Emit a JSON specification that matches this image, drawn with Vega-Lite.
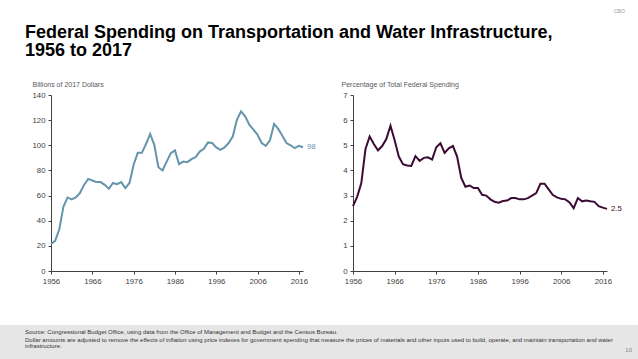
{
  "$schema": "https://vega.github.io/schema/vega-lite/v6.json",
  "background": "white",
  "padding": {"top": 8, "left": 0, "right": 0, "bottom": 0},
  "autosize": {"type": "pad"},
  "config": {
    "view": {"stroke": null},
    "font": "Liberation Sans",
    "axis": {
      "domainColor": "#404040",
      "tickColor": "#404040",
      "labelColor": "#404040",
      "labelFontSize": 7.8,
      "labelFont": "Liberation Sans",
      "labelOverlap": false,
      "labelFlush": false,
      "grid": false,
      "tickSize": 3,
      "domainWidth": 1,
      "titleFont": "Liberation Sans",
      "titleFontWeight": "normal",
      "titleFontSize": 7,
      "titleColor": "#595959"
    }
  },
  "datasets": {
    "dollars": [
      {"year": 1956, "value": 21.5}, {"year": 1957, "value": 24}, {"year": 1958, "value": 33}, {"year": 1959, "value": 51},
      {"year": 1960, "value": 58.5}, {"year": 1961, "value": 57}, {"year": 1962, "value": 58.5}, {"year": 1963, "value": 62},
      {"year": 1964, "value": 68.5}, {"year": 1965, "value": 73.3}, {"year": 1966, "value": 72}, {"year": 1967, "value": 70.7},
      {"year": 1968, "value": 70.7}, {"year": 1969, "value": 68.5}, {"year": 1970, "value": 65.4}, {"year": 1971, "value": 70},
      {"year": 1972, "value": 69}, {"year": 1973, "value": 70.7}, {"year": 1974, "value": 66}, {"year": 1975, "value": 70},
      {"year": 1976, "value": 84.5}, {"year": 1977, "value": 94}, {"year": 1978, "value": 94}, {"year": 1979, "value": 101},
      {"year": 1980, "value": 109}, {"year": 1981, "value": 100.4}, {"year": 1982, "value": 82.6}, {"year": 1983, "value": 80},
      {"year": 1984, "value": 87}, {"year": 1985, "value": 93.8}, {"year": 1986, "value": 96}, {"year": 1987, "value": 85},
      {"year": 1988, "value": 87}, {"year": 1989, "value": 86.6}, {"year": 1990, "value": 89}, {"year": 1991, "value": 90.6},
      {"year": 1992, "value": 95}, {"year": 1993, "value": 97.2}, {"year": 1994, "value": 102.3}, {"year": 1995, "value": 101.8},
      {"year": 1996, "value": 98.3}, {"year": 1997, "value": 96.4}, {"year": 1998, "value": 98.3}, {"year": 1999, "value": 101.8},
      {"year": 2000, "value": 107}, {"year": 2001, "value": 120.3}, {"year": 2002, "value": 127}, {"year": 2003, "value": 123},
      {"year": 2004, "value": 116.4}, {"year": 2005, "value": 112.4}, {"year": 2006, "value": 108.4}, {"year": 2007, "value": 101.8},
      {"year": 2008, "value": 99.6}, {"year": 2009, "value": 104}, {"year": 2010, "value": 117}, {"year": 2011, "value": 113},
      {"year": 2012, "value": 107.6}, {"year": 2013, "value": 101.8}, {"year": 2014, "value": 100}, {"year": 2015, "value": 97.8},
      {"year": 2016, "value": 99.6}, {"year": 2017, "value": 98.4}
    ],
    "share": [
      {"year": 1956, "value": 2.58}, {"year": 1957, "value": 2.95}, {"year": 1958, "value": 3.5}, {"year": 1959, "value": 4.85},
      {"year": 1960, "value": 5.35}, {"year": 1961, "value": 5.05}, {"year": 1962, "value": 4.8}, {"year": 1963, "value": 4.97},
      {"year": 1964, "value": 5.25}, {"year": 1965, "value": 5.78}, {"year": 1966, "value": 5.2}, {"year": 1967, "value": 4.55},
      {"year": 1968, "value": 4.25}, {"year": 1969, "value": 4.2}, {"year": 1970, "value": 4.18}, {"year": 1971, "value": 4.57},
      {"year": 1972, "value": 4.38}, {"year": 1973, "value": 4.5}, {"year": 1974, "value": 4.52}, {"year": 1975, "value": 4.43},
      {"year": 1976, "value": 4.92}, {"year": 1977, "value": 5.08}, {"year": 1978, "value": 4.7}, {"year": 1979, "value": 4.88},
      {"year": 1980, "value": 4.97}, {"year": 1981, "value": 4.55}, {"year": 1982, "value": 3.7}, {"year": 1983, "value": 3.35},
      {"year": 1984, "value": 3.4}, {"year": 1985, "value": 3.3}, {"year": 1986, "value": 3.3}, {"year": 1987, "value": 3.03},
      {"year": 1988, "value": 3.0}, {"year": 1989, "value": 2.85}, {"year": 1990, "value": 2.75}, {"year": 1991, "value": 2.72},
      {"year": 1992, "value": 2.78}, {"year": 1993, "value": 2.8}, {"year": 1994, "value": 2.9}, {"year": 1995, "value": 2.9},
      {"year": 1996, "value": 2.85}, {"year": 1997, "value": 2.85}, {"year": 1998, "value": 2.9}, {"year": 1999, "value": 3.0},
      {"year": 2000, "value": 3.1}, {"year": 2001, "value": 3.47}, {"year": 2002, "value": 3.47}, {"year": 2003, "value": 3.25},
      {"year": 2004, "value": 3.02}, {"year": 2005, "value": 2.93}, {"year": 2006, "value": 2.87}, {"year": 2007, "value": 2.85},
      {"year": 2008, "value": 2.73}, {"year": 2009, "value": 2.5}, {"year": 2010, "value": 2.9}, {"year": 2011, "value": 2.77},
      {"year": 2012, "value": 2.8}, {"year": 2013, "value": 2.77}, {"year": 2014, "value": 2.75}, {"year": 2015, "value": 2.58},
      {"year": 2016, "value": 2.52}, {"year": 2017, "value": 2.47}
    ]
  },
  "title": {
    "text": "10",
    "orient": "bottom",
    "anchor": "end",
    "offset": -12,
    "dx": -6,
    "fontSize": 6,
    "fontWeight": "normal",
    "color": "#7f7f7f"
  },
  "spacing": 40,
  "vconcat": [
    {
      "title": {
        "text": "CBO",
        "anchor": "end",
        "offset": 10,
        "dx": 3,
        "fontSize": 5,
        "fontWeight": "normal",
        "color": "#999999"
      },
      "spacing": 50,
      "bounds": "flush",
      "hconcat": [
        {
          "width": 1,
          "height": 176,
          "data": {"values": []},
          "mark": "point",
          "title": {
            "text": ["Federal Spending on Transportation and Water Infrastructure,", "1956 to 2017"],
            "anchor": "start",
            "frame": "group",
            "dx": 25,
            "offset": 35,
            "fontSize": 18,
            "lineHeight": 18.5,
            "fontWeight": "bold",
            "color": "#000000"
          }
        },
        {
          "width": 252,
          "height": 176,
          "data": {"name": "dollars"},
          "encoding": {
            "x": {"field": "year", "type": "quantitative",
              "scale": {"domain": [1956, 2017], "nice": false, "zero": false},
              "axis": {"values": [1956, 1966, 1976, 1986, 1996, 2006, 2016], "format": "d", "title": null, "labelPadding": 3}},
            "y": {"field": "value", "type": "quantitative",
              "scale": {"domain": [0, 140], "nice": false},
              "axis": {"values": [0, 20, 40, 60, 80, 100, 120, 140], "title": "Billions of 2017 Dollars",
                "titleAngle": 0, "titleAlign": "left", "titleBaseline": "alphabetic", "titleX": -19, "titleY": -9, "labelPadding": 3}}
          },
          "layer": [
            {
              "mark": {"type": "line", "color": "#6595ab", "strokeWidth": 2}
            },
            {
              "transform": [{"filter": "datum.year == 2017"}],
              "mark": {"type": "text", "align": "left", "baseline": "middle", "dx": 4, "fontSize": 7.8, "color": "#6595ab"},
              "encoding": {
                "text": {"field": "value", "type": "quantitative", "format": ".0f"}
              }
            }
          ]
        },
        {
          "width": 254,
          "height": 176,
          "data": {"name": "share"},
          "encoding": {
            "x": {"field": "year", "type": "quantitative",
              "scale": {"domain": [1956, 2017], "nice": false, "zero": false},
              "axis": {"values": [1956, 1966, 1976, 1986, 1996, 2006, 2016], "format": "d", "title": null, "labelPadding": 3}},
            "y": {"field": "value", "type": "quantitative",
              "scale": {"domain": [0, 7], "nice": false},
              "axis": {"values": [0, 1, 2, 3, 4, 5, 6, 7], "title": "Percentage of Total Federal Spending",
                "titleAngle": 0, "titleAlign": "left", "titleBaseline": "alphabetic", "titleX": -12, "titleY": -9, "labelPadding": 3}}
          },
          "layer": [
            {
              "mark": {"type": "line", "color": "#3c0a32", "strokeWidth": 2}
            },
            {
              "transform": [{"filter": "datum.year == 2017"}],
              "mark": {"type": "text", "align": "left", "baseline": "middle", "dx": 4, "fontSize": 7.8, "color": "#3c0a32"},
              "encoding": {
                "text": {"field": "value", "type": "quantitative", "format": ".1f"}
              }
            }
          ]
        }
      ]
    },
    {
      "width": 638,
      "height": 34,
      "view": {"fill": "#e6e6e6", "stroke": null},
      "data": {"values": []},
      "mark": "point",
      "title": {
        "text": "Source: Congressional Budget Office, using data from the Office of Management and Budget and the Census Bureau.",
        "subtitle": ["Dollar amounts are adjusted to remove the effects of inflation using price indexes for government spending that measure the prices of materials and other inputs used to build, operate, and maintain transportation and water", "infrastructure."],
        "orient": "bottom",
        "anchor": "start",
        "frame": "group",
        "offset": -30,
        "dx": 25,
        "fontSize": 6,
        "fontWeight": "normal",
        "color": "#333333",
        "subtitleFontSize": 6,
        "subtitleColor": "#333333",
        "subtitlePadding": 1.5,
        "subtitleLineHeight": 6.5
      }
    }
  ]
}
